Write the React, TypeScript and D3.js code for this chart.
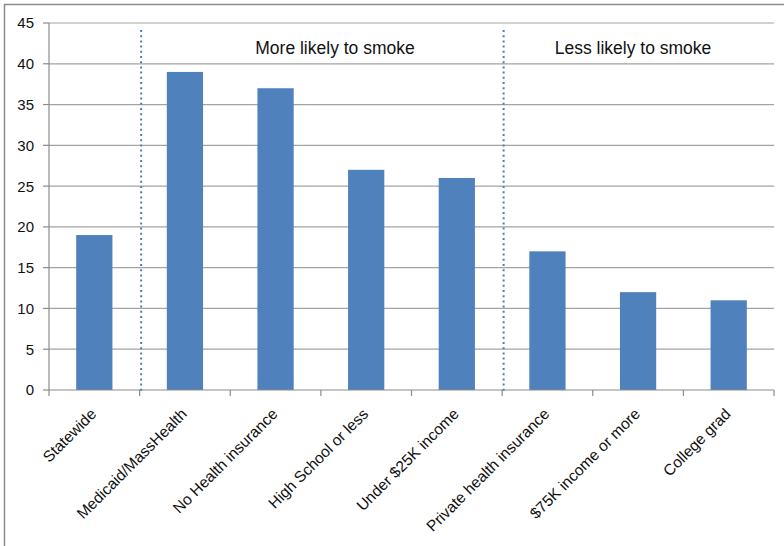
import React from "react";
import * as d3 from "d3";

// Smoking prevalence (%) by group
const categories = [
  "Statewide",
  "Medicaid/MassHealth",
  "No Health insurance",
  "High School or less",
  "Under $25K income",
  "Private health insurance",
  "$75K income or more",
  "College grad",
];
const values = [19, 39, 37, 27, 26, 17, 12, 11];
const yTicks = [0, 5, 10, 15, 20, 25, 30, 35, 40, 45];
// Dividers sit on the category boundary before these groups
const dividerBefore = ["Medicaid/MassHealth", "Private health insurance"];
const groupLabels = ["More likely to smoke", "Less likely to smoke"];

const W = 784;
const H = 546;
const left = 49;
const right = 774;
const top = 23;
const bottom = 390;
const barColor = "#4f81bd";
const font = "'Liberation Sans', Arial, sans-serif";
// horizontal centres of the two group captions
const groupLabelX = [335, 633];

export default function App() {
  const x = d3.scaleBand<string>().domain(categories).range([left, right]).paddingInner(0).paddingOuter(0);
  const y = d3.scaleLinear().domain([0, 45]).range([bottom, top]);
  const bw = x.bandwidth();
  const barW = bw * 0.4;
  const boundaries = d3.range(categories.length + 1).map((i) => left + i * bw);

  return (
    <svg
      width={W}
      height={H}
      style={{ position: "absolute", left: 0, top: 0, display: "block", background: "#fff" }}
      fontFamily={font}
    >
      <rect x={4.5} y={4.5} width={W + 20} height={H + 20} fill="#fff" stroke="#8c8c8c" strokeWidth={1.5} />

      {/* gridlines and y ticks */}
      {yTicks.map((t) => (
        <g key={t}>
          {t > 0 && <line x1={left} x2={right} y1={y(t)} y2={y(t)} stroke="#a3a3a3" strokeWidth={1.2} />}
          <line x1={left - 6} x2={left} y1={y(t)} y2={y(t)} stroke="#8c8c8c" strokeWidth={1.2} />
          <text x={34} y={y(t)} dy="0.36em" textAnchor="end" fontSize={15} fill="#111">
            {t}
          </text>
        </g>
      ))}

      {/* bars */}
      {categories.map((c, i) => (
        <rect
          key={c}
          x={(x(c) as number) + (bw - barW) / 2}
          y={y(values[i])}
          width={barW}
          height={y(0) - y(values[i])}
          fill={barColor}
        />
      ))}

      {/* axes */}
      <line x1={left} x2={left} y1={top} y2={bottom} stroke="#8c8c8c" strokeWidth={1.2} />
      <line x1={left} x2={right} y1={bottom} y2={bottom} stroke="#8c8c8c" strokeWidth={1.2} />
      {boundaries.map((b, i) => (
        <line key={i} x1={b} x2={b} y1={bottom} y2={bottom + 6} stroke="#8c8c8c" strokeWidth={1.2} />
      ))}

      {/* group dividers */}
      {dividerBefore.map((c) => (
        <line
          key={c}
          x1={(x(c) as number) + 1.5}
          x2={(x(c) as number) + 1.5}
          y1={30}
          y2={bottom + 2}
          stroke="#4a7ebb"
          strokeWidth={2}
          strokeDasharray="2,3.2"
        />
      ))}

      {/* group captions */}
      {groupLabels.map((g, i) => (
        <text key={g} x={groupLabelX[i]} y={54} textAnchor="middle" fontSize={17.5} fill="#111">
          {g}
        </text>
      ))}

      {/* category labels */}
      {categories.map((c) => {
        const cx = (x(c) as number) + bw / 2 + 3;
        const cy = 415;
        return (
          <text
            key={c}
            x={cx}
            y={cy}
            textAnchor="end"
            fontSize={15.5}
            fill="#111"
            transform={`rotate(-45 ${cx} ${cy})`}
          >
            {c}
          </text>
        );
      })}
    </svg>
  );
}
